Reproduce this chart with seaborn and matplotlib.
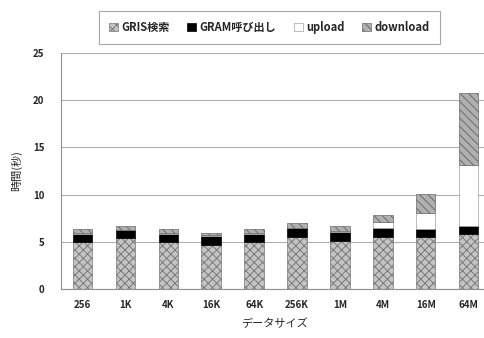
import numpy as np
import pandas as pd
import matplotlib
matplotlib.use("Agg")
import matplotlib.pyplot as plt
from matplotlib.patches import Patch
import seaborn as sns

sns.set_style("white")
plt.rcParams['font.family'] = ['Noto Sans CJK JP', 'DejaVu Sans']
plt.rcParams['hatch.linewidth'] = 0.7

sizes = ["256", "1K", "4K", "16K", "64K", "256K", "1M", "4M", "16M", "64M"]
gris = [5.0, 5.37, 5.0, 4.66, 4.95, 5.48, 5.1, 5.54, 5.54, 5.83]
gram = [0.86, 0.88, 0.86, 1.0, 0.91, 0.95, 0.9, 0.95, 0.78, 0.85]
upload = [0.05, 0.05, 0.05, 0.05, 0.05, 0.05, 0.1, 0.6, 1.7, 6.47]
download = [0.45, 0.37, 0.45, 0.2, 0.45, 0.48, 0.57, 0.7, 2.05, 7.57]
series_names = ["GRIS検索", "GRAM呼び出し", "upload", "download"]

df = pd.DataFrame({"size": sizes, "gris": gris, "gram": gram,
                   "upload": upload, "download": download})

fig = plt.figure(figsize=(4.85, 3.38), dpi=100)
ax = fig.add_axes([0.126, 0.145, 0.88, 0.698])

styles = [
    ("gris", dict(color="#c4c4c4", hatch="xxxx", edgecolor="#7a7a7a")),
    ("gram", dict(color="black", edgecolor="black")),
    ("upload", dict(color="white", edgecolor="#a0a0a0")),
    ("download", dict(color="#b0b0b0", hatch="\\\\\\\\", edgecolor="#6a6a6a")),
]
bottom = np.zeros(len(sizes))
for col, st in styles:
    sns.barplot(data=df, x="size", y=col, ax=ax, width=0.455, bottom=bottom,
                linewidth=0.5, saturation=1, **st)
    bottom = bottom + df[col].values

ax.set_xlim(-0.5, 9.45)
ax.set_ylim(0, 25)
ax.set_yticks([0, 5, 10, 15, 20, 25])
ax.yaxis.grid(True, color="#b0b0b0", linewidth=0.8)
ax.set_axisbelow(True)
for s in ["top", "right"]:
    ax.spines[s].set_visible(False)
for s in ["left", "bottom"]:
    ax.spines[s].set_color("#909090")
ax.set_xticks(np.arange(-0.5, 9.5, 1), minor=True)
ax.tick_params(axis="x", which="major", length=0, labelsize=7, pad=8)
ax.tick_params(axis="x", which="minor", length=3, color="#909090", direction="out")
ax.tick_params(axis="y", length=0, labelsize=7, pad=12)
for lbl in ax.get_xticklabels() + ax.get_yticklabels():
    lbl.set_fontweight("bold")

ax.set_xlabel("データサイズ", fontsize=8, labelpad=6)
ax.set_ylabel("時間(秒)", fontsize=8, labelpad=8)

handles = [Patch(facecolor=st["color"], edgecolor=st["edgecolor"], hatch=st.get("hatch"), linewidth=0.5)
           for _, st in styles]
leg = fig.legend(handles, series_names, loc="upper center", bbox_to_anchor=(0.555, 0.985),
                 ncol=4, frameon=True, fancybox=False, edgecolor="#909090",
                 prop={"size": 8, "weight": "bold"},
                 handlelength=0.8, handleheight=0.8, handletextpad=0.3, columnspacing=1.6,
                 borderpad=0.9)
leg.get_frame().set_linewidth(0.8)

fig.savefig("out.png", dpi=100)
